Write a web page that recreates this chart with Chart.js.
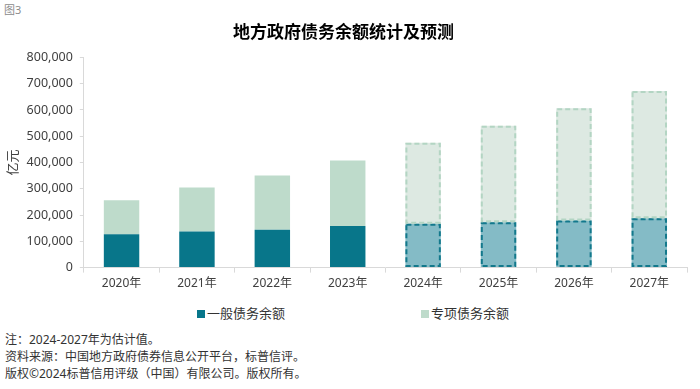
<!DOCTYPE html>
<html lang="zh">
<head>
<meta charset="UTF-8">
<title>地方政府债务余额统计及预测</title>
<style>
  body { margin: 0; background: #fff; font-family: "Noto Sans", "Noto Sans CJK SC", sans-serif; }
  #wrap { position: relative; width: 700px; height: 389px; }
  #fig { position: absolute; left: 4px; top: 1px; font-size: 11px; color: #8c8c8c; }
  #legend { position: absolute; top: 305px; left: 0; width: 700px; font-size: 13px; color: #333; }
  .item { position: absolute; top: 0; line-height: 16px; white-space: nowrap; }
  .box { display: inline-block; width: 8px; height: 8px; margin-right: 2px; vertical-align: 0px; }
  #notes { position: absolute; left: 5px; top: 331px; font-size: 12px; line-height: 17px; color: #333; }
</style>
</head>
<body>
<div id="wrap">
  <div id="fig">图3</div>
  <canvas id="myChart" width="700" height="300" style="position:absolute;left:0;top:0;width:700px;height:300px"></canvas>
  <div id="legend"></div>
  <div id="notes">
    注：2024-2027年为估计值。<br>
    资料来源：中国地方政府债券信息公开平台，标普信评。<br>
    版权©2024标普信用评级（中国）有限公司。版权所有。
  </div>
</div>

<script src="https://cdn.jsdelivr.net/npm/chart.js"></script>
<script>
// data
const years = ['2020年', '2021年', '2022年', '2023年', '2024年', '2025年', '2026年', '2027年'];
const general = [127395, 137709, 143896, 158688, 167000, 173000, 179000, 188000];
const special = [129220, 166991, 206722, 248685, 308000, 367000, 427000, 484000];
const firstForecast = 4;
const seriesNames = ['一般债务余额', '专项债务余额'];

const solid = ['#08768a', '#bedbcb'];
const light = ['#84bbc6', '#dde9e2'];
const dashCol = ['#13798c', '#b3d5c3'];

function fills(i) {
  return years.map((y, k) => k >= firstForecast ? light[i] : solid[i]);
}

// dashed outline for the forecast bars
const dashedBars = {
  id: 'dashedBars',
  afterDatasetsDraw(chart) {
    const ctx = chart.ctx;
    chart.data.datasets.forEach((ds, i) => {
      const meta = chart.getDatasetMeta(i);
      meta.data.forEach((bar, k) => {
        if (k < firstForecast) return;
        const p = bar.getProps(['x', 'y', 'base', 'width'], true);
        ctx.save();
        ctx.strokeStyle = dashCol[i];
        ctx.lineWidth = 2;
        ctx.setLineDash([5, 3]);
        ctx.strokeRect(p.x - p.width / 2 + 1, Math.min(p.y, p.base) + 1, p.width - 2, Math.abs(p.base - p.y) - 2);
        ctx.restore();
      });
    });
  }
};

const ctx = document.getElementById('myChart');
const myChart = new Chart(ctx, {
  type: 'bar',
  data: {
    labels: years,
    datasets: [
      { label: seriesNames[0], data: general, backgroundColor: fills(0), stack: 's' },
      { label: seriesNames[1], data: special, backgroundColor: fills(1), stack: 's' }
    ]
  },
  options: {
    responsive: false,
    animation: false,
    devicePixelRatio: 1,
    categoryPercentage: 1,
    barPercentage: 0.47,
    layout: { padding: { left: 0, right: 13, bottom: 5 } },
    plugins: {
      legend: { display: false },
      tooltip: { enabled: false },
      title: {
        display: true,
        text: '地方政府债务余额统计及预测',
        color: '#000',
        font: { size: 17, weight: 'bold', family: '"Noto Sans CJK SC", sans-serif' },
        padding: { top: 21, bottom: 16 }
      }
    },
    scales: {
      x: {
        stacked: true,
        grid: { drawOnChartArea: false, color: '#d9d9d9', tickLength: 5 },
        border: { color: '#d9d9d9' },
        ticks: { color: '#404040', font: { size: 12, family: '"Noto Sans", "Noto Sans CJK SC", sans-serif' }, padding: 4 }
      },
      y: {
        stacked: true,
        min: 0,
        max: 800000,
        grid: { drawOnChartArea: false, color: '#d9d9d9', tickLength: 4 },
        border: { color: '#d9d9d9' },
        ticks: {
          stepSize: 100000,
          color: '#404040',
          padding: 7,
          font: { size: 12.5, family: '"Noto Sans", sans-serif' },
          callback: v => v.toLocaleString('en-US')
        },
        title: {
          display: true,
          text: '亿元',
          color: '#404040',
          font: { size: 13, family: '"Noto Sans CJK SC", sans-serif' },
          padding: { top: 4, bottom: 0 }
        }
      }
    }
  },
  plugins: [dashedBars]
});

// html legend, widely spaced as in the original
const legend = document.getElementById('legend');
const legendX = [197, 421];
seriesNames.forEach((name, i) => {
  const d = document.createElement('div');
  d.className = 'item';
  d.style.left = legendX[i] + 'px';
  d.innerHTML = '<span class="box" style="background:' + solid[i] + '"></span>' + name;
  legend.appendChild(d);
});
</script>
</body>
</html>
